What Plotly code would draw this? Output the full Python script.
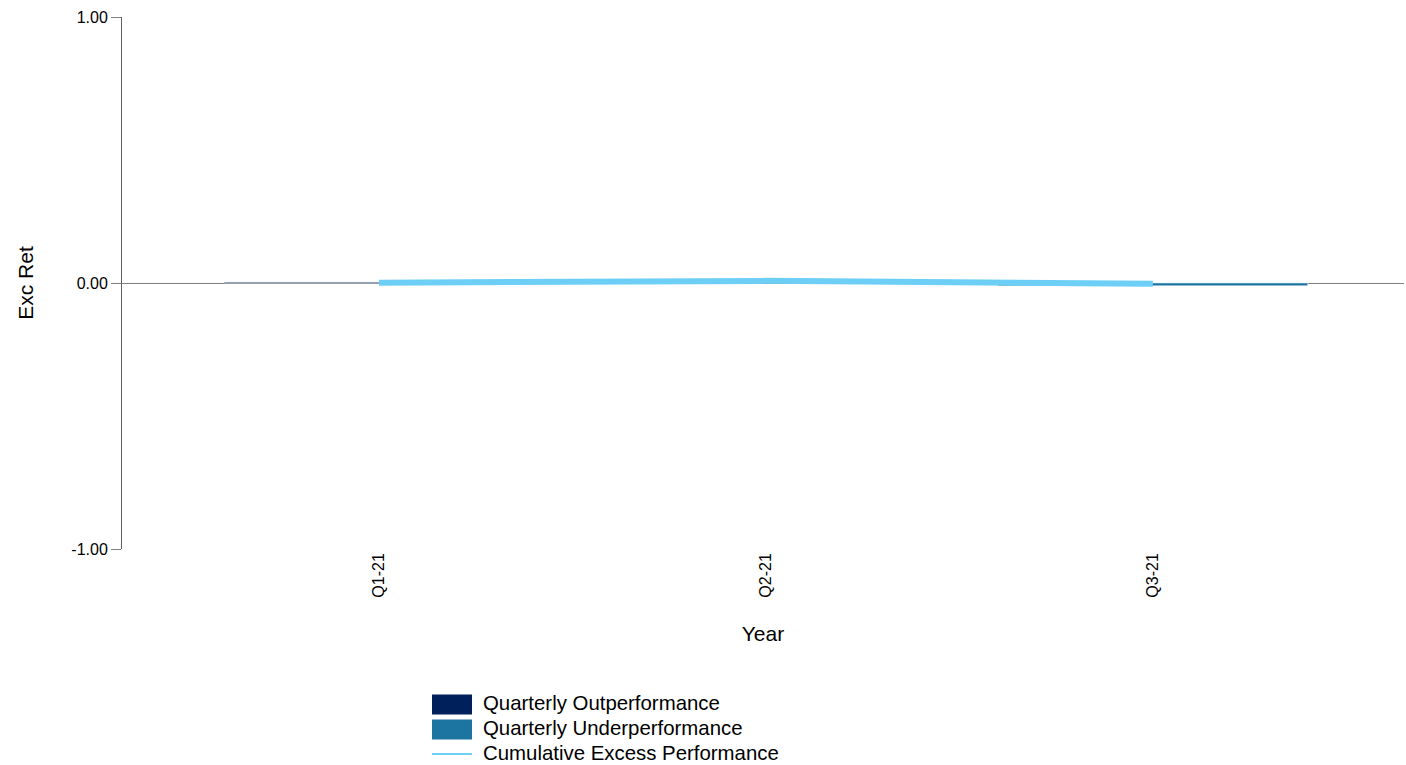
import plotly.graph_objects as go

# Quarterly excess returns and the cumulative excess series
quarters = ["Q1-21", "Q2-21", "Q3-21"]
outperformance = [0.003, 0.006, None]
underperformance = [None, None, -0.010]
cumulative_excess = [0.001, 0.008, -0.003]

y_ticks = [-1.0, 0.0, 1.0]
y_tick_text = ["-1.00", "0.00", "1.00"]

legend_items = ["Quarterly Outperformance", "Quarterly Underperformance", "Cumulative Excess Performance"]

C_OUT = "#00205B"
C_UNDER = "#1B75A0"
C_CUM = "#6DCFF6"
FONT = "Liberation Sans, Arial, sans-serif"

W, H = 1406, 765
M_L, M_R, M_T, M_B = 122, 2, 17, 216

fig = go.Figure()
fig.add_trace(go.Bar(x=quarters, y=outperformance, marker_color=C_OUT, width=0.8,
                     name=legend_items[0], showlegend=False))
fig.add_trace(go.Bar(x=quarters, y=underperformance, marker_color=C_UNDER, width=0.8,
                     name=legend_items[1], showlegend=False))
fig.add_trace(go.Scatter(x=quarters, y=cumulative_excess, mode="lines",
                         line=dict(color=C_CUM, width=6), name=legend_items[2],
                         showlegend=False))

fig.update_layout(
    width=W, height=H,
    margin=dict(l=M_L, r=M_R, t=M_T, b=M_B, autoexpand=False),
    paper_bgcolor="white", plot_bgcolor="white",
    barmode="relative",
    font=dict(family=FONT, color="#000000"),
)

fig.update_xaxes(
    type="category", range=[-0.664, 2.649],
    tickangle=-90, tickfont=dict(size=16), ticks="",
    showgrid=False, showline=False, zeroline=False,
    title=dict(text="Year", font=dict(size=21), standoff=29),
    automargin=False,
)
fig.update_yaxes(
    range=[-1.0, 1.0], tickvals=y_ticks, ticktext=y_tick_text,
    tickfont=dict(size=16), ticks="outside", ticklen=10, tickcolor="#808080",
    showgrid=True, gridcolor="#A0A0A0", gridwidth=1,
    zeroline=True, zerolinecolor="#808080", zerolinewidth=1,
    showline=True, linecolor="#606060", linewidth=1,
    title=dict(text="Exc Ret", font=dict(size=21), standoff=31),
    automargin=False,
)

# Legend drawn as swatches with labels below the plot area.
# Paper coordinates are relative to the plot area, so convert from page pixels.
plot_w = W - M_L - M_R
plot_h = H - M_T - M_B
def px(x):
    return (x - M_L) / plot_w
def py(y):
    return (H - M_B - y) / plot_h

swatch_x0, swatch_x1 = 432, 472
rows_y = [704.5, 729.5, 754]
for i, (label, color) in enumerate(zip(legend_items, [C_OUT, C_UNDER, C_CUM])):
    yc = rows_y[i]
    if i < 2:
        fig.add_shape(type="rect", xref="paper", yref="paper",
                      x0=px(swatch_x0), x1=px(swatch_x1),
                      y0=py(yc + 10), y1=py(yc - 10),
                      fillcolor=color, line=dict(width=0))
    else:
        fig.add_shape(type="line", xref="paper", yref="paper",
                      x0=px(swatch_x0), x1=px(swatch_x1), y0=py(yc), y1=py(yc),
                      line=dict(color=color, width=2))
    fig.add_annotation(text=label, xref="paper", yref="paper",
                       x=px(481), y=py(yc - 1.5), xanchor="left", yanchor="middle",
                       showarrow=False, font=dict(size=20.4, family=FONT))

fig.write_html("out.html")
